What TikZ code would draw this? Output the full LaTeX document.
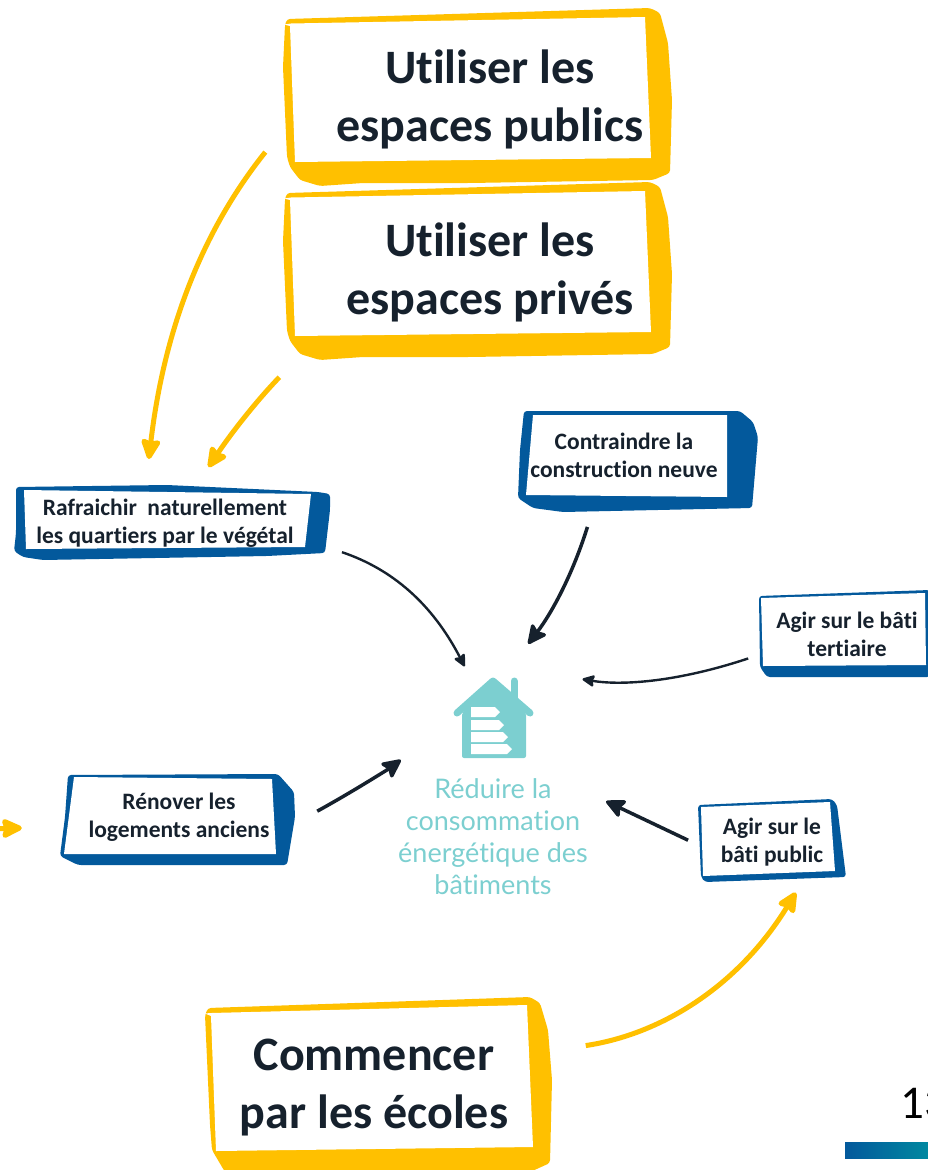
\documentclass[tikz,border=0pt]{standalone}
\usepackage{fontspec}
\setmainfont[Ligatures=NoCommon]{Carlito}
\newfontfamily\goalfont[Ligatures=NoCommon]{Lato}
\usetikzlibrary{arrows.meta}
\definecolor{gold}{HTML}{FFC000}
\definecolor{brushblue}{HTML}{03599C}
\definecolor{inkdark}{HTML}{16212D}
\definecolor{goalteal}{HTML}{7CCFD0}
\definecolor{barteal}{HTML}{0088A0}
\newcommand{\brushframe}[3]{
        \fill[#1,rounded corners=3pt] #2 -- cycle;
        \fill[white] #3 -- cycle;
}
\tikzset{
        bigtext/.style={align=center,inner sep=0pt,text=inkdark,font=\fontsize{48}{58}\selectfont\bfseries},
        smalltext/.style={align=center,inner sep=0pt,text=inkdark,font=\fontsize{23.5}{28}\selectfont\bfseries},
        goaltext/.style={align=center,inner sep=0pt,text=goalteal,font=\fontsize{27}{32}\selectfont\goalfont},
        goldarrow/.style={draw=gold,line width=5pt,-{Stealth[length=24pt,width=22pt,inset=3pt,round]}},
        darkarrow/.style={draw=inkdark,line width=3.5pt,-{Stealth[length=22pt,width=21pt,inset=4pt,round]}},
        thinarrow/.style={draw=inkdark,line width=2.4pt,-{Stealth[length=14pt,width=13pt,inset=2pt,round]}},
}
\begin{document}
\begin{tikzpicture}[x=1pt,y=1pt]
        \useasboundingbox (0,0) rectangle (928,-1170);

        \foreach \yoff in {0,-174} {
                \begin{scope}[yshift=\yoff pt]
                        \brushframe{gold}{(287,-19) -- (650,-8) -- (660,-13) -- (668,-43) -- (672,-100) -- (670,-173) -- (653,-180) -- (470,-183) -- (363,-183) -- (320,-186) -- (300,-180) -- (290,-167) -- (287,-157) -- (283,-67) -- (285,-25)}{(284,-24.5) -- (291,-23.5) -- (645,-17) -- (651,-158) -- (295,-162) -- (290,-26)}
                \end{scope}
        }
        \brushframe{gold}{(208,-1008) -- (530,-997) -- (540,-1003) -- (548,-1030) -- (552,-1080) -- (550,-1163) -- (530,-1172) -- (225,-1172) -- (212,-1150) -- (210,-1125) -- (205,-1015)}{(205,-1013.5) -- (211,-1013) -- (527,-1005) -- (533,-1147) -- (216,-1151) -- (211,-1016)}
        \brushframe{brushblue}{(16,-487) -- (167,-485) -- (318,-492) -- (330,-494) -- (330,-510) -- (325,-553) -- (267,-556) -- (43,-560) -- (23,-557) -- (14,-551) -- (16,-533)}{(24,-490) -- (311,-494) -- (305,-547) -- (26,-549)}
        \brushframe{brushblue}{(524,-411) -- (740,-411) -- (753,-422) -- (758,-437) -- (752,-508) -- (563,-512) -- (533,-508) -- (518,-498) -- (520,-450)}{(533,-415) -- (727,-415) -- (727,-497) -- (526,-495)}
        \brushframe{brushblue}{(759,-596) -- (930,-590) -- (930,-677) -- (767,-677) -- (760,-667)}{(761,-598) -- (925,-593) -- (926,-665) -- (763,-666)}
        \brushframe{brushblue}{(68,-775) -- (278,-774) -- (294,-792) -- (295,-817) -- (287,-865) -- (78,-865) -- (60,-856) -- (65,-817)}{(74,-777) -- (272,-779) -- (276,-854) -- (64,-854)}
        \brushframe{brushblue}{(698,-805) -- (832,-799) -- (837,-805) -- (846,-877) -- (705,-882) -- (701,-877)}{(701,-807) -- (830,-802) -- (835,-871) -- (703,-876)}

        \node[bigtext,minimum width=364pt,minimum height=150pt] (publics) at (490,-99) {Utiliser les\\espaces publics};
        \node[bigtext,minimum width=364pt,minimum height=150pt] (prives) at (490,-272.5) {Utiliser les\\espaces privés};
        \node[bigtext,minimum width=340pt,minimum height=150pt] (ecoles) at (374,-1088) {Commencer\\par les écoles};
        \node[smalltext,minimum width=310pt,minimum height=70pt] (rafraichir) at (165,-523) {Rafraichir\ \ naturellement\\les quartiers par le végétal};
        \node[smalltext,minimum width=210pt,minimum height=90pt] (contraindre) at (624,-455) {Contraindre la\\construction neuve};
        \node[smalltext,minimum width=165pt,minimum height=80pt] (tertiaire) at (847,-634) {Agir sur le bâti\\tertiaire};
        \node[smalltext,minimum width=135pt,minimum height=75pt] (batipublic) at (772,-842) {Agir sur le\\bâti public};
        \node[smalltext,minimum width=220pt,minimum height=85pt] (renover) at (179,-817) {Rénover les\\logements anciens};
        \node[inner sep=0pt,minimum width=80pt,minimum height=90pt] (house) at (493,-716) {};
        \node[goaltext] (goal) at (493,-837) {Réduire la\\consommation\\énergétique des\\bâtiments};
        \node[anchor=base west,inner sep=0pt,font=\fontsize{47}{47}\selectfont] (pagenum) at (900,-1118) {13};
        \coordinate (stubstart) at (-14,-829);

        \fill[goalteal,rounded corners=2pt] (462,-713) -- (493,-684) -- (526,-713) -- (526,-758) -- (462,-758) -- cycle;
        \draw[goalteal,line width=7pt,line cap=round,line join=round] (457,-713) -- (493,-681) -- (530,-713);
        \draw[goalteal,line width=7pt,line cap=round] (514,-681) -- (514,-705);
        \fill[white] (471,-707) -- (495,-707) -- (500,-712) -- (495,-717) -- (471,-717) -- cycle;
        \fill[white] (471,-720) -- (499,-720) -- (504,-725) -- (499,-730) -- (471,-730) -- cycle;
        \fill[white] (471,-732) -- (503,-732) -- (508,-737) -- (503,-742) -- (471,-742) -- cycle;
        \fill[white] (471,-744) -- (507,-744) -- (512,-749) -- (507,-754) -- (471,-754) -- cycle;

        \shade[left color=brushblue,right color=barteal] (845,-1142) rectangle (928,-1158);

        \path (publics.west) edge[goldarrow,bend right=16,shorten <=68pt,shorten >=29pt] (rafraichir.119);
        \path (prives.south west) edge[goldarrow,bend right=5,shorten <=41pt,shorten >=25pt] (rafraichir.50);
        \path (ecoles.12) edge[goldarrow,bend right=25,shorten <=42pt,shorten >=15pt] (batipublic.-50);
        \path (stubstart) edge[goldarrow,shorten >=47pt] (renover.185);
        \path (rafraichir.-8) edge[thinarrow,bend left=22,shorten <=23pt,shorten >=5pt] (house.120);
        \path (contraindre.-122) edge[darkarrow,bend left=10,shorten <=28pt,shorten >=34pt] (house.72);
        \path (tertiaire.193.5) edge[thinarrow,bend left=14,shorten <=17pt,shorten >=50pt] (house.north east);
        \path (batipublic.185) edge[darkarrow,shorten <=18pt,shorten >=20pt] (goal.25);
        \path (renover.-5) edge[darkarrow,bend right=4,shorten <=32pt,shorten >=65pt] (house.187);
\end{tikzpicture}
\end{document}
